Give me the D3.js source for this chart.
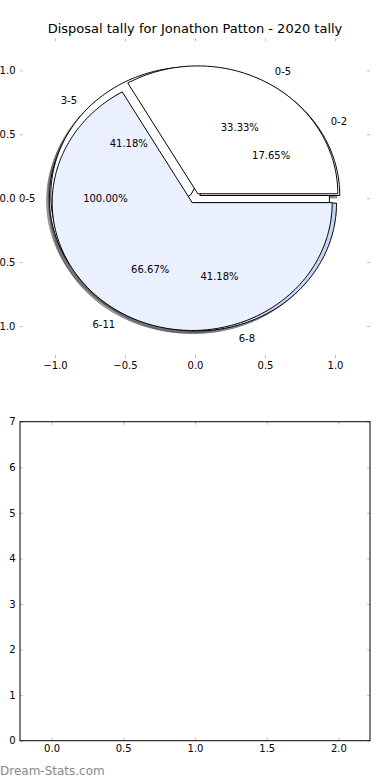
<!DOCTYPE html>
<html>
<head>
<meta charset="utf-8">
<script src="https://cdn.jsdelivr.net/npm/d3@7.9.0/dist/d3.min.js"></script>
<style>
body { margin: 0; background: #fff; }
svg { display: block; font-family: "DejaVu Sans", sans-serif; }
</style>
</head>
<body>
<svg id="chart" width="390" height="780"></svg>
<script>
// three pies stacked on the same axes, last one ends up on top
const totalLabels = ['0-5'];
const totalValues = [100];
const totalColors = ['#ffffff'];

const splitLabels = ['0-2', '3-5', '6-8'];
const splitValues = [17.65, 41.18, 41.18];
const splitColors = ['#ffffff', '#ffffff', '#c6d7f5'];

const halfLabels = ['0-5', '6-11'];
const halfValues = [33.33, 66.67];
const halfColors = ['#ffffff', '#eaf0fd'];

const pieTicks = [-1.0, -0.5, 0.0, 0.5, 1.0];
const barXTicks = [0.0, 0.5, 1.0, 1.5, 2.0];
const barYTicks = [0, 1, 2, 3, 4, 5, 6, 7];

const explode = 0.04;
const shadowOffset = -0.02;
const tickGray = '#bdbdbd';

const svg = d3.select('#chart');

// ---- pie axes ----
let x = d3.scaleLinear().domain([-1.25, 1.25]).range([20, 370]);
let y = d3.scaleLinear().domain([-1.25, 1.25]).range([358, 38.4]);

let pies = [
    { labels: totalLabels, values: totalValues, colors: totalColors },
    { labels: splitLabels, values: splitValues, colors: splitColors },
    { labels: halfLabels, values: halfValues, colors: halfColors },
];

let sliceGenerator = d3.pie().sort(null).value((d) => d).startAngle(0).endAngle(2 * Math.PI);
let line = d3.line().x((p) => x(p[0])).y((p) => y(p[1])).curve(d3.curveLinearClosed);

// angles are read counter-clockwise from east, like matplotlib
function wedgePoints(cx, cy, a0, a1) {
    let full = a1 - a0 >= 2 * Math.PI - 1e-9;
    let pts = full ? [] : [[cx, cy]];
    let n = Math.max(8, Math.ceil((a1 - a0) / (Math.PI / 180)));
    for (let i = 0; i <= n; i++) {
        let a = a0 + (a1 - a0) * i / n;
        pts.push([cx + Math.cos(a), cy + Math.sin(a)]);
    }
    return pts;
}

let wedges = [];
pies.forEach((pie) => {
    sliceGenerator(pie.values).forEach((d, i) => {
        let mid = (d.startAngle + d.endAngle) / 2;
        wedges.push({
            label: pie.labels[i],
            color: pie.colors[i],
            a0: d.startAngle,
            a1: d.endAngle,
            mid: mid,
            pct: (d.endAngle - d.startAngle) / (2 * Math.PI) * 100,
            cx: explode * Math.cos(mid),
            cy: explode * Math.sin(mid),
        });
    });
});

// shadows sit under every wedge
let shadowLayer = svg.append('g');
wedges.forEach((w) => {
    let c = d3.rgb(w.color);
    let dark = d3.rgb(c.r * 0.3, c.g * 0.3, c.b * 0.3);
    shadowLayer.append('path')
        .attr('d', line(wedgePoints(w.cx + shadowOffset, w.cy + shadowOffset, w.a0, w.a1)))
        .attr('fill', dark)
        .attr('fill-opacity', 0.5)
        .attr('stroke', dark)
        .attr('stroke-opacity', 0.5)
        .attr('stroke-width', 1);
});

let wedgeLayer = svg.append('g');
wedges.forEach((w) => {
    wedgeLayer.append('path')
        .attr('d', line(wedgePoints(w.cx, w.cy, w.a0, w.a1)))
        .attr('fill', w.color)
        .attr('stroke', '#000')
        .attr('stroke-width', 1)
        .attr('stroke-linejoin', 'round');
});

let textLayer = svg.append('g').attr('font-size', 10).attr('fill', '#000');
wedges.forEach((w) => {
    let lx = w.cx + 1.1 * Math.cos(w.mid);
    let ly = w.cy + 1.1 * Math.sin(w.mid);
    textLayer.append('text')
        .attr('x', x(lx))
        .attr('y', y(ly))
        .attr('dy', '0.35em')
        .attr('text-anchor', lx < 0 ? 'end' : 'start')
        .text(w.label);
    textLayer.append('text')
        .attr('x', x(w.cx + 0.6 * Math.cos(w.mid)))
        .attr('y', y(w.cy + 0.6 * Math.sin(w.mid)))
        .attr('dy', '0.35em')
        .attr('text-anchor', 'middle')
        .text(w.pct.toFixed(2) + '%');
});

function styleAxis(g) {
    g.attr('font-family', '"DejaVu Sans", sans-serif').attr('font-size', 10);
    g.selectAll('.tick line').attr('stroke', tickGray);
    g.selectAll('.tick text').attr('fill', '#000');
}

let pieFmt = d3.format('.1f');
svg.append('g').attr('transform', 'translate(20,0)')
    .call(d3.axisLeft(y).tickValues(pieTicks).tickFormat(pieFmt).tickSize(-3).tickPadding(4.5))
    .call(styleAxis).call((g) => g.select('.domain').remove());
svg.append('g').attr('transform', 'translate(370,0)')
    .call(d3.axisRight(y).tickValues(pieTicks).tickFormat('').tickSize(-3))
    .call(styleAxis).call((g) => g.select('.domain').remove());
svg.append('g').attr('transform', 'translate(0,358)')
    .call(d3.axisBottom(x).tickValues(pieTicks).tickFormat(pieFmt).tickSize(-3).tickPadding(3.5))
    .call(styleAxis).call((g) => g.select('.domain').remove());
svg.append('g').attr('transform', 'translate(0,38.4)')
    .call(d3.axisTop(x).tickValues(pieTicks).tickFormat('').tickSize(-3))
    .call(styleAxis).call((g) => g.select('.domain').remove());

svg.append('text')
    .attr('x', 195)
    .attr('y', 33)
    .attr('text-anchor', 'middle')
    .attr('font-size', 13)
    .text('Disposal tally for Jonathon Patton - 2020 tally');

// ---- empty bar axes ----
let bx = d3.scaleLinear().domain([-0.22, 2.22]).range([20, 370]);
let by = d3.scaleLinear().domain([0, 7]).range([740.7, 421.7]);

svg.append('g').attr('transform', 'translate(20,0)')
    .call(d3.axisLeft(by).tickValues(barYTicks).tickFormat(d3.format('d')).tickSize(-3).tickPadding(4.5))
    .call(styleAxis).call((g) => g.select('.domain').remove());
svg.append('g').attr('transform', 'translate(370,0)')
    .call(d3.axisRight(by).tickValues(barYTicks).tickFormat('').tickSize(-3))
    .call(styleAxis).call((g) => g.select('.domain').remove());
svg.append('g').attr('transform', 'translate(0,740.7)')
    .call(d3.axisBottom(bx).tickValues(barXTicks).tickFormat(pieFmt).tickSize(-3).tickPadding(4))
    .call(styleAxis).call((g) => g.select('.domain').remove());
svg.append('g').attr('transform', 'translate(0,421.7)')
    .call(d3.axisTop(bx).tickValues(barXTicks).tickFormat('').tickSize(-3))
    .call(styleAxis).call((g) => g.select('.domain').remove());

svg.append('rect')
    .attr('x', bx.range()[0])
    .attr('y', by.range()[1])
    .attr('width', bx.range()[1] - bx.range()[0])
    .attr('height', by.range()[0] - by.range()[1])
    .attr('fill', 'none')
    .attr('stroke', '#000')
    .attr('stroke-width', 1);

svg.append('text')
    .attr('x', 0)
    .attr('y', 775)
    .attr('font-size', 12)
    .attr('fill', '#888')
    .text('Dream-Stats.com');
</script>
</body>
</html>
